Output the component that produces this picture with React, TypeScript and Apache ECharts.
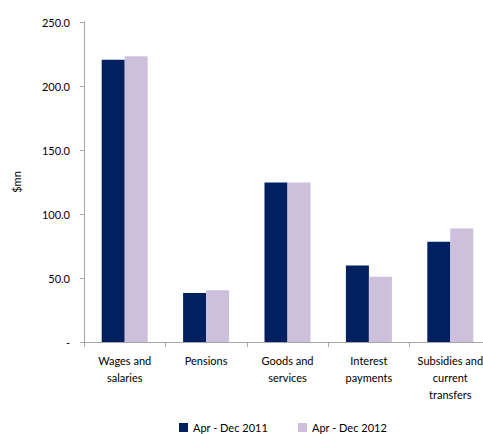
import React, { useEffect, useRef } from "react";
import * as echarts from "echarts";

const categories = ["Wages and\nsalaries", "Pensions", "Goods and\nservices", "Interest\npayments", "Subsidies and\ncurrent\ntransfers"];
const series2011 = [220.5, 38.2, 124.6, 59.7, 78.4];
const series2012 = [223.3, 40.5, 124.6, 50.9, 88.7];
const seriesNames = ["Apr - Dec 2011", "Apr - Dec 2012"];
const yTicks = [0, 50, 100, 150, 200, 250];

const FONT = "Lato";

export default function App() {
  const ref = useRef<HTMLDivElement>(null);
  useEffect(() => {
    if (!ref.current) return;
    const chart = echarts.init(ref.current, undefined, { renderer: "svg" });
    chart.setOption({
      animation: false,
      textStyle: { fontFamily: FONT },
      grid: { left: 84, top: 22, bottom: 92, right: 0, containLabel: false },
      legend: {
        left: 174,
        top: 417,
        icon: "rect",
        itemWidth: 9,
        itemHeight: 9,
        itemGap: 30,
        textStyle: { fontFamily: FONT, fontSize: 11, color: "#000" },
        data: seriesNames,
      },
      xAxis: {
        type: "category",
        data: categories,
        axisLine: { lineStyle: { color: "#A6A6A6", width: 1 } },
        axisTick: { show: true, length: 5, lineStyle: { color: "#A6A6A6" } },
        axisLabel: { fontFamily: FONT, fontSize: 11, color: "#000", margin: 10, lineHeight: 17, interval: 0 },
      },
      yAxis: {
        type: "value",
        min: yTicks[0],
        max: yTicks[yTicks.length - 1],
        interval: 50,
        name: "$mn",
        nameLocation: "middle",
        nameGap: 62,
        nameRotate: 90,
        nameTextStyle: { fontFamily: FONT, fontSize: 11, color: "#000" },
        axisLine: { show: true, lineStyle: { color: "#A6A6A6", width: 1 } },
        axisTick: { show: true, length: 4, lineStyle: { color: "#A6A6A6" } },
        splitLine: { show: false },
        axisLabel: {
          fontFamily: FONT,
          fontSize: 11,
          color: "#000",
          margin: 14,
          formatter: (v: number) => (v === 0 ? "-" : v.toFixed(1)),
        },
      },
      series: [
        {
          name: seriesNames[0],
          type: "bar",
          data: series2011,
          barWidth: 23,
          barGap: "0%",
          itemStyle: { color: "#002060" },
        },
        {
          name: seriesNames[1],
          type: "bar",
          data: series2012,
          barWidth: 23,
          barGap: "0%",
          itemStyle: { color: "#CCC0DA" },
        },
      ],
    });
    return () => chart.dispose();
  }, []);
  return (
    <div style={{ position: "absolute", left: 0, top: 0, width: 483, height: 434, overflow: "hidden" }}>
      <div ref={ref} style={{ width: 491, height: 434 }} />
    </div>
  );
}
